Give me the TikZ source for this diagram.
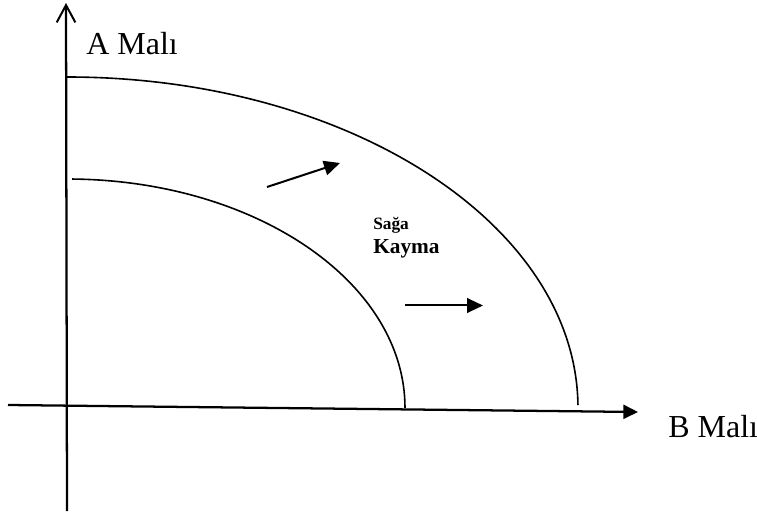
\documentclass[tikz,border=0pt]{standalone}
\usepackage{fontspec}
\setmainfont{Liberation Serif}
\usetikzlibrary{arrows.meta}
\begin{document}
\begin{tikzpicture}[x=0.75pt,y=0.75pt,
  axis/.style={line width=1.7pt},
  curve/.style={line width=1.2pt},
  shiftarrow/.style={line width=1.5pt,-{Triangle[length=12pt,width=11pt]}},
  lbl/.style={anchor=base west,inner sep=0pt}]
\useasboundingbox (0,0) rectangle (757,511);
% axes
\coordinate (ybot) at (67,0);
\coordinate (ytop) at (66,508);
\coordinate (xleft) at (8,106);
\coordinate (xright) at (638,99);
\draw[axis,-{Straight Barb[length=13pt,width=14pt,line width=1.5pt]}] (ybot) -- (ytop);
\draw[axis,-{Triangle[length=11pt,width=10.5pt]}] (xleft) -- (xright);
% curves
\coordinate (innerstart) at ({67+338*cos(89.15)},{103+229*sin(89.15)});
\coordinate (outerstart) at (67,434);
\draw[curve] (innerstart) arc[start angle=89.15,end angle=0,x radius=338,y radius=229];
\draw[curve] (outerstart) arc[start angle=90,end angle=0.5,x radius=511,y radius=331];
% shift arrows
\coordinate (a1s) at (267,324);
\coordinate (a1e) at (340,348);
\coordinate (a2s) at (405,205.5);
\coordinate (a2e) at (483,205.5);
\draw[shiftarrow] (a1s) -- (a1e);
\draw[shiftarrow] (a2s) -- (a2e);
% labels
\node[lbl,font=\fontsize{24}{28}\selectfont] (amali) at (86,456) {A Malı};
\node[lbl,font=\fontsize{24}{28}\selectfont] (bmali) at (668,74) {B Malı};
\node[lbl,font=\bfseries\fontsize{13}{15}\selectfont] (saga) at (373,281) {Sağa};
\node[lbl,font=\bfseries\fontsize{16}{19}\selectfont] (kayma) at (373,257) {Kayma};
\end{tikzpicture}
\end{document}
